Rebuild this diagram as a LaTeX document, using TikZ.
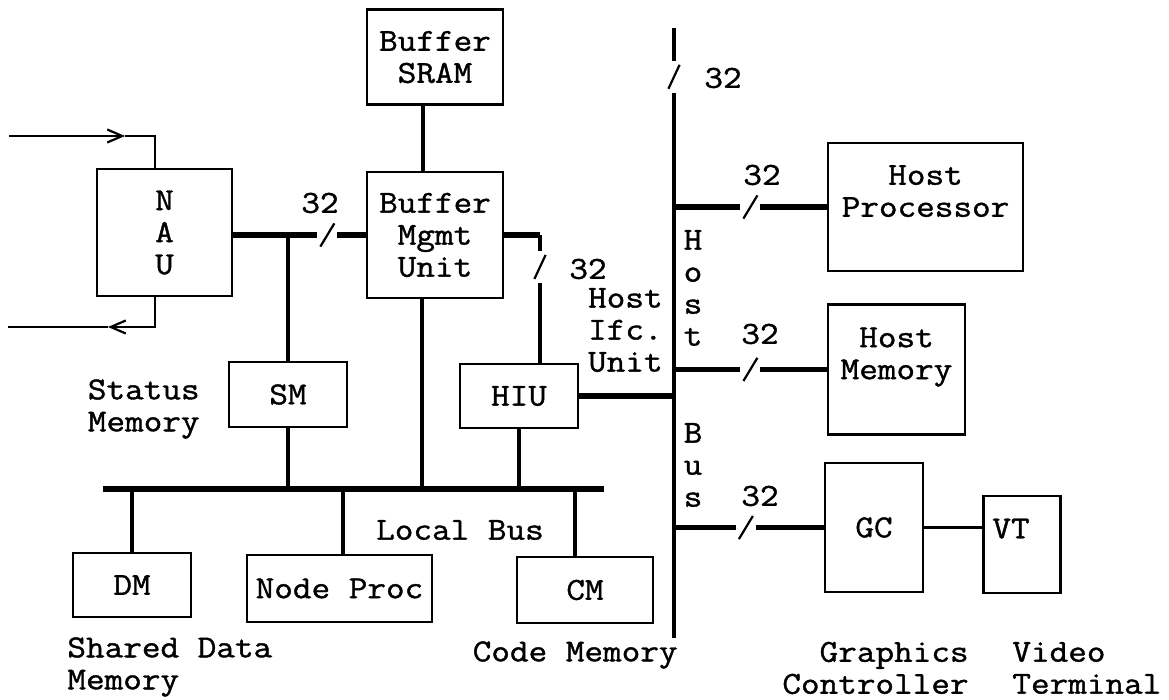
\documentclass[tikz,border=0pt]{standalone}
\usepackage{fontspec}
\setmonofont[FakeStretch=1.13, FakeBold=1.2]{Latin Modern Mono}
\usetikzlibrary{arrows.meta, positioning}

\begin{document}
\begin{tikzpicture}[
    x=0.5pt, y=-0.5pt,
    node distance=15pt and 29pt,
    unit/.style={rectangle, draw=black, line width=1.2pt, inner sep=0pt, align=center, font=\ttfamily\fontsize{16}{16}\selectfont},
    note/.style={inner sep=0pt, font=\ttfamily\fontsize{16}{16}\selectfont},
    bus/.style={line width=2.6pt},
    link/.style={line width=1.6pt},
    wire/.style={line width=1.1pt},
    barb/.style={-{Straight Barb[length=7.5pt, width=6.5pt]}},
    hbreak/.style={fill=white, inner sep=0pt, minimum width=10pt, minimum height=13pt,
        path picture={\draw[line width=1.1pt] ([xshift=-3.5pt, yshift=-5.8pt]path picture bounding box.center) -- ([xshift=3.5pt, yshift=5.8pt]path picture bounding box.center);}},
    vbreak/.style={fill=white, inner sep=0pt, minimum width=7pt, minimum height=16pt,
        path picture={\draw[line width=1.1pt] ([xshift=-2.8pt, yshift=-6pt]path picture bounding box.center) -- ([xshift=2.8pt, yshift=6pt]path picture bounding box.center);}}
]
    \useasboundingbox (0,0) rectangle (1169,700);

    % Units
    \node[unit, minimum width=67.5pt, minimum height=63.5pt] (nau) at (164.5,232.5) {N\\A\\U};
    \node[unit, minimum width=68pt, minimum height=63pt] (bmu) at (435,235) {Buffer\\Mgmt\\Unit};
    \node[unit, minimum width=68pt, minimum height=47.5pt, above=32.5pt of bmu] (sram) {Buffer\\SRAM};
    \node[unit, minimum width=59pt, minimum height=32.5pt] (sm) at (288,394.5) {SM};
    \node[unit, minimum width=59pt, minimum height=32pt] (hiu) at (519,396) {HIU};
    \node[unit, minimum width=59pt, minimum height=32pt] (dm) at (132,585) {DM};
    \node[unit, minimum width=92.5pt, minimum height=33.5pt] (np) at (339.5,588.5) {Node Proc};
    \node[unit, minimum width=68pt, minimum height=33pt] (cm) at (585,590) {CM};
    \node[unit, minimum width=97.5pt, minimum height=64pt] (hp) at (925.5,207) {Host\\Processor\\\mbox{}};
    \node[unit, minimum width=68.5pt, minimum height=65pt, below=15.5pt of hp.south west, anchor=north west] (hm) {Host\\Memory\\\mbox{}};
    \node[unit, minimum width=49pt, minimum height=64.5pt] (gc) at (874,527.5) {GC};
    \node[unit, inner xsep=4.5pt, text width=29.5pt, align=left, minimum height=48.5pt, right=of gc, yshift=-8.5pt] (vt) {VT\\\mbox{}};

    % Bus ends and free line ends
    \coordinate (lbw) at (103,489);
    \coordinate (lbe) at (604,489);
    \coordinate (hbt) at (674,28);
    \coordinate (hbb) at (674,638);
    \coordinate (bend) at (540,235);
    \coordinate (inA) at (9,136);
    \coordinate (inB) at (125,136);
    \coordinate (outA) at (8,327);
    \coordinate (outB) at (108,327);

    % Network side
    \draw[wire, barb] (inA) -- (inB);
    \draw[wire] (inB) -| ([xshift=-4.75pt]nau.north);
    \draw[wire, barb] ([xshift=-4.75pt]nau.south) |- (outB);
    \draw[wire] (outB) -- (outA);

    % NAU to buffer management
    \draw[bus] (nau.east |- bmu.west) -- node[hbreak, pos=0.71]{} (bmu.west);
    \node[note] (w1) at (320,203) {32};
    \draw[link] (sm.north |- bmu.west) -- (sm.north);
    \draw[link] (sm.south) -- (sm.south |- lbw);
    \draw[link, line width=2pt] ([xshift=-6pt]sram.south) -- ([xshift=-6pt]bmu.north);
    \draw[link] ([xshift=-6.5pt]bmu.south) -- ([xshift=-6.5pt]bmu.south |- lbw);

    % Buffer management to HIU
    \draw[bus] (bmu.east) -- (bend);
    \draw[link] (bend) -- node[vbreak, pos=0.25]{} (bend |- hiu.north);
    \node[note] (w2) at (588,269) {32};
    \draw[link] (hiu.south) -- (hiu.south |- lbw);
    \draw[bus] (hiu.east) -- (hiu.east -| hbt);

    % Local bus
    \draw[bus] (lbw) -- (lbe);
    \draw[link] (dm.north) -- (dm.north |- lbw);
    \draw[link] ([xshift=1.75pt]np.north) -- ([xshift=1.75pt]np.north |- lbw);
    \draw[link] ([xshift=-5pt]cm.north) -- ([xshift=-5pt]cm.north |- lbw);

    % Host bus
    \draw[link, line width=2pt] (hbt) -- node[vbreak, pos=0.08]{} (hbb);
    \node[note] (w3) at (723,78) {32};
    \draw[bus] (hbt |- hp.west) -- node[hbreak, pos=0.5]{} (hp.west);
    \node[note] (w4) at (762,175) {32};
    \draw[bus] (hbt |- hm.west) -- node[hbreak, pos=0.5]{} (hm.west);
    \node[note] (w5) at (760,334) {32};
    \draw[bus] (hbt |- gc.west) -- node[hbreak, pos=0.48]{} (gc.west);
    \node[note] (w6) at (760,496) {32};
    \draw[wire] (gc.east) -- (gc.east -| vt.west);

    % Labels
    \node[note, align=right, anchor=east] (smlbl) at (200,409) {Status\\Memory};
    \node[note, align=right, anchor=east] (hiulbl) at (663,330) {Host\\Ifc.\\Unit};
    \node[note, align=center] (hblbl) at (693,288) {H\\o\\s\\t};
    \node[note, align=center] (bslbl) at (693,465) {B\\u\\s};
    \node[note] (lblbl) at (460,530) {Local Bus};
    \node[note, align=left, anchor=west] (dmlbl) at (67,667) {Shared Data\\Memory};
    \node[note, anchor=east] (cmlbl) at (678,655) {Code Memory};
    \node[note, align=right, anchor=east] (gclbl) at (969,668) {Graphics\\Controller};
    \node[note, align=left, anchor=west] (vtlbl) at (1012,668) {Video\\Terminal};
\end{tikzpicture}
\end{document}
